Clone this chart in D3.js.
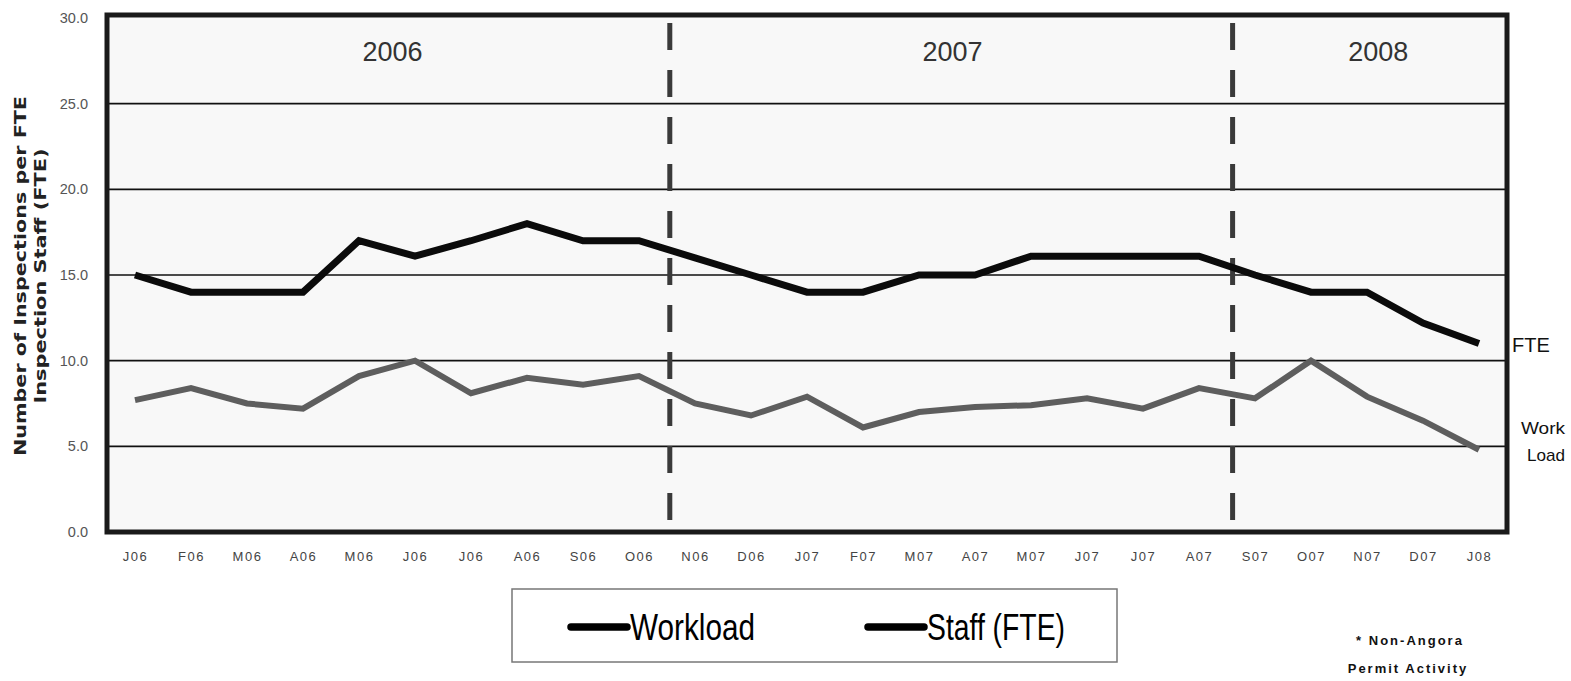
<!DOCTYPE html>
<html>
<head>
<meta charset="utf-8">
<script src="https://cdn.jsdelivr.net/npm/d3@7"></script>
<style>
  body { margin: 0; background: #fff; }
  svg { display: block; }
</style>
</head>
<body>
<svg id="chart" width="1571" height="681"></svg>
<script>
// monthly labels, Jan 2006 .. Jan 2008
const months = ['J06','F06','M06','A06','M06','J06','J06','A06','S06','O06','N06','D06',
                'J07','F07','M07','A07','M07','J07','J07','A07','S07','O07','N07','D07','J08'];
const workload = [7.7, 8.4, 7.5, 7.2, 9.1, 10.0, 8.1, 9.0, 8.6, 9.1, 7.5, 6.8,
                  7.9, 6.1, 7.0, 7.3, 7.4, 7.8, 7.2, 8.4, 7.8, 10.0, 7.9, 6.5, 4.8];
const staff = [15, 14, 14, 14, 17, 16.1, 17, 18, 17, 17, 16, 15,
               14, 14, 15, 15, 16.1, 16.1, 16.1, 16.1, 15, 14, 14, 12.2, 11];
const yTicks = [0, 5, 10, 15, 20, 25, 30];
const years = ['2006', '2007', '2008'];
const yearPos = [4.6, 14.6, 22.2];     // in month-index units
const dividers = [9.55, 19.6];         // year boundaries, month-index units

const svg = d3.select('#chart');
const frame = { left: 107, right: 1507, top: 18, bottom: 532 };

const x = d3.scaleLinear().domain([0, months.length - 1]).range([135, 1479]);
const y = d3.scaleLinear().domain([0, 30]).range([frame.bottom, frame.top]);

// plot background
svg.append('rect')
    .attr('x', frame.left).attr('y', frame.top)
    .attr('width', frame.right - frame.left).attr('height', frame.bottom - frame.top)
    .attr('fill', '#f8f8f8');

// gridlines
svg.append('g')
    .selectAll('line')
    .data(yTicks.filter(d => d > 0 && d < 30))
    .join('line')
    .attr('x1', frame.left).attr('x2', frame.right)
    .attr('y1', d => y(d)).attr('y2', d => y(d))
    .attr('stroke', '#111')
    .attr('stroke-width', 1.6);

// year dividers
svg.append('g')
    .selectAll('line')
    .data(dividers)
    .join('line')
    .attr('x1', d => x(d)).attr('x2', d => x(d))
    .attr('y1', frame.top + 5).attr('y2', frame.bottom)
    .attr('stroke', '#3a3a3a')
    .attr('stroke-width', 5)
    .attr('stroke-dasharray', '27,20');

// year labels
svg.append('g')
    .selectAll('text')
    .data(years)
    .join('text')
    .attr('x', (d, i) => x(yearPos[i]))
    .attr('y', 61)
    .attr('text-anchor', 'middle')
    .attr('font-family', 'Liberation Sans, Arial, sans-serif')
    .attr('font-size', '27px')
    .attr('fill', '#333')
    .text(d => d);

const line = d3.line()
    .x((d, i) => x(i))
    .y(d => y(d));

svg.append('path')
    .datum(workload)
    .attr('fill', 'none')
    .attr('stroke', '#5e5e5e')
    .attr('stroke-width', 6)
    .attr('d', line);

svg.append('path')
    .datum(staff)
    .attr('fill', 'none')
    .attr('stroke', '#0b0b0b')
    .attr('stroke-width', 7)
    .attr('d', line);

// thick outer frame
svg.append('rect')
    .attr('x', frame.left).attr('y', frame.top - 3)
    .attr('width', frame.right - frame.left).attr('height', frame.bottom - frame.top + 3)
    .attr('fill', 'none')
    .attr('stroke', '#1a1a1a')
    .attr('stroke-width', 5);

// y axis labels
const yAxis = svg.append('g')
    .attr('transform', `translate(${frame.left - 16}, 0)`)
    .call(d3.axisLeft(y).tickValues(yTicks).tickFormat(d3.format('.1f')).tickSize(0));
yAxis.select('.domain').remove();
yAxis.selectAll('text')
    .attr('font-family', 'Liberation Sans, Arial, sans-serif')
    .attr('font-size', '14.5px')
    .attr('fill', '#555');

// x axis labels
const xAxis = svg.append('g')
    .attr('transform', `translate(0, ${frame.bottom + 17})`)
    .call(d3.axisBottom(x).tickValues(d3.range(months.length)).tickFormat(i => months[i]).tickSize(0));
xAxis.select('.domain').remove();
xAxis.selectAll('text')
    .attr('font-family', 'Liberation Sans, Arial, sans-serif')
    .attr('font-size', '13px')
    .attr('letter-spacing', '1.5px')
    .attr('fill', '#444');

// y axis title
const title = svg.append('text')
    .attr('transform', 'translate(0, 276) rotate(-90)')
    .attr('text-anchor', 'middle')
    .attr('font-family', 'DejaVu Sans, sans-serif')
    .attr('font-weight', 'bold')
    .attr('font-size', '16.5px')
    .attr('fill', '#222');
title.append('tspan')
    .attr('x', 0).attr('y', 26)
    .attr('textLength', 360).attr('lengthAdjust', 'spacingAndGlyphs')
    .text('Number of Inspections per FTE');
title.append('tspan')
    .attr('x', 0).attr('y', 46)
    .attr('textLength', 255).attr('lengthAdjust', 'spacingAndGlyphs')
    .text('Inspection Staff (FTE)');

// series end labels
const endLabels = svg.append('g')
    .attr('font-family', 'Liberation Sans, Arial, sans-serif')
    .attr('fill', '#111');
endLabels.append('text')
    .attr('x', frame.right + 5).attr('y', y(staff[staff.length - 1]) + 8)
    .attr('font-size', '20px')
    .text('FTE');
endLabels.append('text')
    .attr('x', 1565).attr('y', 434)
    .attr('text-anchor', 'end')
    .attr('font-size', '17px')
    .attr('textLength', 44).attr('lengthAdjust', 'spacingAndGlyphs')
    .text('Work');
endLabels.append('text')
    .attr('x', 1565).attr('y', 461)
    .attr('text-anchor', 'end')
    .attr('font-size', '17px')
    .attr('textLength', 38).attr('lengthAdjust', 'spacingAndGlyphs')
    .text('Load');

// legend
const legend = svg.append('g');
legend.append('rect')
    .attr('x', 512).attr('y', 589)
    .attr('width', 605).attr('height', 73)
    .attr('fill', '#fff')
    .attr('stroke', '#777')
    .attr('stroke-width', 1.5);

const legendItems = [
    { name: 'Workload', x: 571, width: 125 },
    { name: 'Staff (FTE)', x: 868, width: 138 },
];
legendItems.forEach(item => {
    legend.append('line')
        .attr('x1', item.x).attr('x2', item.x + 56)
        .attr('y1', 627).attr('y2', 627)
        .attr('stroke', '#000')
        .attr('stroke-width', 7.5)
        .attr('stroke-linecap', 'round');
    legend.append('text')
        .attr('x', item.x + 59).attr('y', 640)
        .attr('font-family', 'Liberation Sans, Arial, sans-serif')
        .attr('font-size', '36px')
        .attr('fill', '#000')
        .attr('textLength', item.width).attr('lengthAdjust', 'spacingAndGlyphs')
        .text(item.name);
});

// footnote
const note = svg.append('g')
    .attr('font-family', 'Liberation Sans, Arial, sans-serif')
    .attr('font-weight', 'bold')
    .attr('font-size', '13px')
    .attr('letter-spacing', '2px')
    .attr('text-anchor', 'middle')
    .attr('fill', '#111');
note.append('text').attr('x', 1410).attr('y', 645).text('* Non-Angora');
note.append('text').attr('x', 1408).attr('y', 673).text('Permit Activity');
</script>
</body>
</html>
